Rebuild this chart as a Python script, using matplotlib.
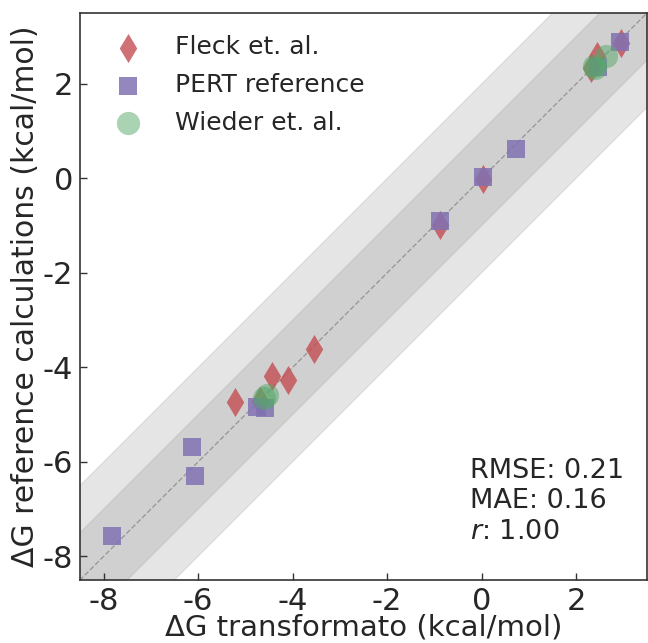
import numpy as np
import matplotlib
matplotlib.use("Agg")
import matplotlib.pyplot as plt

# Data
fleck_x = [2.94, 2.31, 2.44, 0.03, -0.89, -3.55, -4.10, -4.43, -5.22, -4.68]
fleck_y = [2.86, 2.33, 2.60, -0.02, -0.98, -3.61, -4.26, -4.19, -4.74, -4.72]

pert_x = [2.93, 2.47, 0.72, 0.03, -0.89, -4.75, -4.58, -6.14, -6.07, -7.83]
pert_y = [2.88, 2.35, 0.63, 0.03, -0.91, -4.84, -4.86, -5.68, -6.30, -7.57]

wieder_x = [2.63, 2.37, 2.40, -4.54, -4.61]
wieder_y = [2.60, 2.37, 2.33, -4.58, -4.65]

xticks = [-8, -6, -4, -2, 0, 2]
yticks = [-8, -6, -4, -2, 0, 2]
stats_text = "RMSE: 0.21\nMAE: 0.16\n$r$: 1.00"

lims = (-8.5, 3.5)
text_color = "#262626"

fig = plt.figure(figsize=(6.48, 6.43), dpi=100)
ax = fig.add_axes([80 / 648, (643 - 580) / 643, 567 / 648, 567 / 643])

xx = np.linspace(lims[0] - 1, lims[1] + 1, 50)
ax.fill_between(xx, xx - 2, xx + 2, color="grey", alpha=0.2, linewidth=0.8, zorder=0)
ax.fill_between(xx, xx - 1, xx + 1, color="grey", alpha=0.2, linewidth=0.8, zorder=0)
ax.plot(xx, xx, ls="--", color="#999999", lw=1.0, zorder=1)

ax.scatter(fleck_x, fleck_y, marker="d", s=220, color="#c44e52", alpha=0.8,
           linewidths=0, label="Fleck et. al.", zorder=2)
ax.scatter(pert_x, pert_y, marker="s", s=170, color="#8172b3", alpha=0.85,
           linewidths=0, label="PERT reference", zorder=3)
ax.scatter(wieder_x, wieder_y, marker="o", s=280, color="#55a868", alpha=0.5,
           linewidths=0, label="Wieder et. al.", zorder=4)

ax.set_xlim(lims)
ax.set_ylim(lims)
ax.set_xticks(xticks)
ax.set_yticks(yticks)
ax.set_xticklabels([str(t) for t in xticks])
ax.set_yticklabels([str(t) for t in yticks])
ax.tick_params(direction="in", length=5, width=1, colors="#333333",
               labelcolor=text_color, labelsize=22, pad=5)

for sp in ax.spines.values():
    sp.set_color("#333333")
    sp.set_linewidth(1.2)

ax.set_xlabel("ΔG transformato (kcal/mol)", fontsize=21, color=text_color, labelpad=-2)
ax.set_ylabel("ΔG reference calculations (kcal/mol)", fontsize=21.5, color=text_color, labelpad=2)

leg = ax.legend(loc="upper left", frameon=False, fontsize=18, handletextpad=0.9,
                borderaxespad=0.5, labelspacing=0.55, markerscale=1.0)
for t in leg.get_texts():
    t.set_color(text_color)

ax.text(0.687, 0.215, stats_text, transform=ax.transAxes, fontsize=19.5,
        color=text_color, va="top", ha="left", linespacing=1.22)

fig.savefig("out.png", dpi=100)
